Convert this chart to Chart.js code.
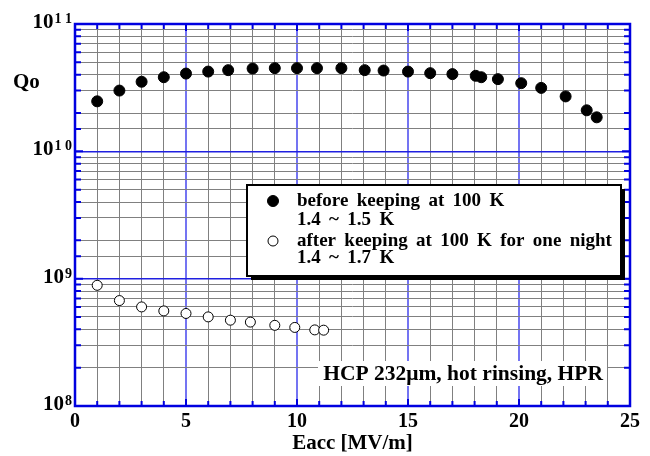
<!DOCTYPE html>
<html>
<head>
<meta charset="utf-8">
<script src="https://cdn.jsdelivr.net/npm/chart.js@4.4.0/dist/chart.umd.min.js"></script>
<style>
html, body { margin: 0; padding: 0; background: #fff; }
#wrap { width: 650px; height: 456px; }
</style>
</head>
<body>
<div id="wrap"><canvas id="myChart" width="650" height="456"></canvas></div>
<script>
// filled circles - before keeping at 100 K
var eacc_before = [1.0, 2.0, 3.0, 4.0, 5.0, 6.0, 6.9, 8.0, 9.0, 10.0, 10.9, 12.0, 13.05, 13.9, 15.0, 16.0, 17.0, 18.05, 18.3, 19.05, 20.1, 21.0, 22.1, 23.05, 23.5];
var qo_before = [2.47e10, 3.0e10, 3.52e10, 3.82e10, 4.08e10, 4.23e10, 4.34e10, 4.47e10, 4.5e10, 4.5e10, 4.5e10, 4.5e10, 4.34e10, 4.31e10, 4.23e10, 4.11e10, 4.04e10, 3.92e10, 3.82e10, 3.69e10, 3.43e10, 3.15e10, 2.70e10, 2.10e10, 1.85e10];
// open circles - after keeping at 100 K for one night
var eacc_after = [1.0, 2.0, 3.0, 4.0, 5.0, 6.0, 7.0, 7.9, 9.0, 9.9, 10.8, 11.2];
var qo_after = [8.87e8, 6.73e8, 6.0e8, 5.58e8, 5.33e8, 5.01e8, 4.72e8, 4.56e8, 4.30e8, 4.14e8, 3.96e8, 3.94e8];

var legend_lines = [
    ["before keeping at 100 K", "1.4 ~ 1.5 K"],
    ["after keeping at 100 K for one night", "1.4 ~ 1.7 K"]
];
var x_tick_labels = [0, 5, 10, 15, 20, 25];
var y_tick_values = [1e8, 1e9, 1e10, 1e11];
var y_tick_exps = ["8", "9", "1 0", "1 1"];
var x_title = "Eacc [MV/m]";
var y_title = "Qo";
var note_text = "HCP 232\u03bcm, hot rinsing, HPR";

const FONT = "'Liberation Serif', 'Times New Roman', serif";
const BLUE = "#0000e0";

function toPoints(xs, ys){
    let out = [];
    for (let i = 0; i < xs.length; i++){
        out.push({x: xs[i], y: ys[i]});
    }
    return out;
}

function isDecade(v){
    let e = Math.log10(v);
    return Math.abs(e - Math.round(e)) < 1e-9;
}

// draw text word by word, with wider gaps like the original
function spacedText(ctx, text, x, y, gap){
    let words = text.split(" ");
    let sp = ctx.measureText(" ").width + gap;
    words.forEach(function(w){
        ctx.fillText(w, x, y);
        x += ctx.measureText(w).width + sp;
    });
}

const drawExtras = {
    id: 'drawExtras',
    beforeDatasetsDraw(chart){
        const ctx = chart.ctx;
        const a = chart.chartArea;
        const sx = chart.scales.x;
        const sy = chart.scales.y;
        ctx.save();
        // white patch behind the note
        ctx.fillStyle = "#fff";
        ctx.fillRect(318, 361, 289, 25);
        ctx.strokeStyle = BLUE;
        // small inner ticks on all four sides
        ctx.lineWidth = 2;
        sx.ticks.forEach(function(t){
            let px = sx.getPixelForValue(t.value);
            let len = (t.value % 5 === 0) ? 7 : 5;
            ctx.beginPath();
            ctx.moveTo(px, a.bottom); ctx.lineTo(px, a.bottom - len);
            ctx.moveTo(px, a.top); ctx.lineTo(px, a.top + len);
            ctx.stroke();
        });
        sy.ticks.forEach(function(t){
            let py = sy.getPixelForValue(t.value);
            let len = isDecade(t.value) ? 8 : 6;
            ctx.beginPath();
            ctx.moveTo(a.left, py); ctx.lineTo(a.left + len, py);
            ctx.moveTo(a.right, py); ctx.lineTo(a.right - len, py);
            ctx.stroke();
        });
        // frame
        ctx.lineWidth = 2.5;
        ctx.strokeRect(a.left, a.top, a.right - a.left, a.bottom - a.top);
        ctx.restore();
    },
    afterDatasetsDraw(chart){
        const ctx = chart.ctx;
        const a = chart.chartArea;
        const sx = chart.scales.x;
        const sy = chart.scales.y;
        ctx.save();

        // legend box with shadow
        let bx = 247, by = 185, bw = 374, bh = 91;
        ctx.fillStyle = "#000";
        ctx.fillRect(bx + 4, by + 4, bw, bh);
        ctx.fillStyle = "#fff";
        ctx.fillRect(bx, by, bw, bh);
        ctx.strokeStyle = "#000";
        ctx.lineWidth = 2;
        ctx.strokeRect(bx, by, bw, bh);

        let rows = [[201, 220], [241, 258]];
        chart.data.datasets.forEach(function(ds, i){
            ctx.beginPath();
            ctx.arc(273, rows[i][0], ds.pointRadius, 0, Math.PI * 2);
            ctx.fillStyle = ds.backgroundColor;
            ctx.fill();
            ctx.lineWidth = ds.borderWidth || 1;
            ctx.strokeStyle = ds.borderColor;
            ctx.stroke();
            ctx.fillStyle = "#000";
            ctx.font = "bold 19px " + FONT;
            ctx.textAlign = "left";
            ctx.textBaseline = "middle";
            spacedText(ctx, legend_lines[i][0], 297, rows[i][0], 3.6);
            spacedText(ctx, legend_lines[i][1], 297, rows[i][1], 3.6);
        });

        // note in lower right
        ctx.font = "bold 21.5px " + FONT;
        ctx.textAlign = "right";
        ctx.textBaseline = "middle";
        ctx.fillStyle = "#000";
        ctx.fillText(note_text, 603, 374);

        // x tick labels
        ctx.font = "bold 20px " + FONT;
        ctx.textAlign = "center";
        x_tick_labels.forEach(function(v){
            ctx.fillText(String(v), sx.getPixelForValue(v), 422);
        });
        // x title
        ctx.font = "bold 21px " + FONT;
        ctx.fillText(x_title, (a.left + a.right) / 2, 444);

        // y title
        ctx.textAlign = "left";
        ctx.fillText(y_title, 13, 83);

        // y tick labels: 10 with superscript exponent
        ctx.textBaseline = "alphabetic";
        y_tick_values.forEach(function(v, i){
            let py = sy.getPixelForValue(v);
            ctx.font = "bold 14px " + FONT;
            let we = ctx.measureText(y_tick_exps[i]).width;
            ctx.textAlign = "right";
            ctx.fillText(y_tick_exps[i], 72, py - 1);
            ctx.font = "bold 21px " + FONT;
            ctx.fillText("10", 72 - we - 1, py + 4);
        });
        ctx.restore();
    }
};

var dash_1 = new Chart(document.getElementById("myChart"), {
    type: 'scatter',
    data: {
        datasets: [{
            label: legend_lines[0].join(" "),
            data: toPoints(eacc_before, qo_before),
            pointRadius: 5.5,
            backgroundColor: "#000",
            borderColor: "#000",
            borderWidth: 1
        }, {
            label: legend_lines[1].join(" "),
            data: toPoints(eacc_after, qo_after),
            pointRadius: 5,
            backgroundColor: "#fff",
            borderColor: "#000",
            borderWidth: 1
        }]
    },
    options: {
        responsive: false,
        animation: false,
        devicePixelRatio: 1,
        layout: { padding: { left: 75, top: 24, right: 20, bottom: 50 } },
        plugins: {
            legend: { display: false },
            tooltip: { enabled: false }
        },
        scales: {
            x: {
                type: 'linear',
                min: 0,
                max: 25,
                ticks: { stepSize: 1, display: false },
                grid: {
                    drawTicks: false,
                    color: function(c){ return (c.tick.value % 5 === 0) ? "#7474f2" : "#808080"; },
                    lineWidth: function(c){ return (c.tick.value % 5 === 0) ? 2 : 1; }
                },
                border: { display: false }
            },
            y: {
                type: 'logarithmic',
                min: 1e8,
                max: 1e11,
                ticks: { display: false },
                grid: {
                    drawTicks: false,
                    color: function(c){ return isDecade(c.tick.value) ? "#2020e0" : "#808080"; },
                    lineWidth: function(c){ return isDecade(c.tick.value) ? 1.5 : 1; }
                },
                border: { display: false }
            }
        }
    },
    plugins: [drawExtras]
});
</script>
</body>
</html>
